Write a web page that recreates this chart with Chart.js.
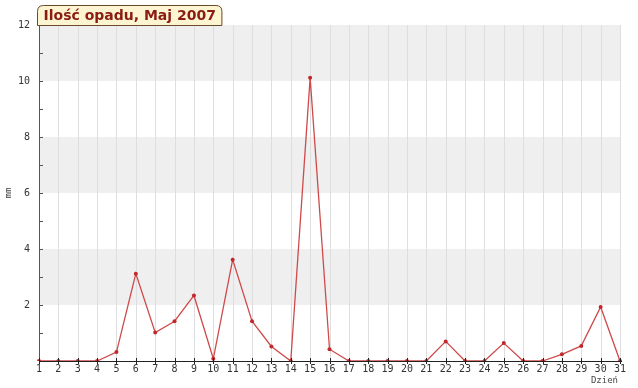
<!DOCTYPE html>
<html>
<head>
<meta charset="utf-8">
<script src="https://cdn.jsdelivr.net/npm/chart.js@4"></script>
<style>
  html, body { margin: 0; padding: 0; background: #fff; }
  #wrap { width: 638px; height: 388px; position: relative; }
</style>
</head>
<body>
<div id="wrap"><canvas id="rainChart" width="638" height="388"></canvas></div>
<script>
// Data
const days = ['1', '2', '3', '4', '5', '6', '7', '8', '9', '10', '11', '12', '13', '14', '15', '16',
    '17', '18', '19', '20', '21', '22', '23', '24', '25', '26', '27', '28', '29', '30', '31'];
const rain = [0, 0, 0, 0, 0.32, 3.12, 1.02, 1.42, 2.34, 0.08, 3.62, 1.42, 0.52, 0, 10.12, 0.42,
    0, 0, 0, 0, 0, 0.7, 0, 0, 0.64, 0, 0, 0.24, 0.54, 1.93, 0];
const yLabels = [2, 4, 6, 8, 10, 12];
const titleText = 'Ilość opadu, Maj 2007';
const yTitle = 'mm';
const xTitle = 'Dzień';

const monoFont = '"DejaVu Sans Mono", monospace';

// bands, inner ticks, title box, axis names
const decorPlugin = {
    id: 'decor',
    beforeDatasetsDraw(chart) {
        const { ctx, chartArea: a, scales: { x, y } } = chart;
        ctx.save();
        // gray bands 2-4, 6-8, 10-12
        ctx.fillStyle = '#efefef';
        for (let v = 2; v < 12; v += 4) {
            const top = y.getPixelForValue(v + 2);
            const bot = y.getPixelForValue(v);
            ctx.fillRect(a.left, top, a.right - a.left, bot - top);
        }
        // vertical grid
        ctx.strokeStyle = '#dedede';
        ctx.lineWidth = 1;
        for (let i = 1; i < days.length; i++) {
            const px = Math.round(x.getPixelForValue(i)) + 0.5;
            ctx.beginPath();
            ctx.moveTo(px, a.top);
            ctx.lineTo(px, a.bottom);
            ctx.stroke();
        }
        ctx.restore();
    },
    afterDatasetsDraw(chart) {
        const { ctx, chartArea: a, scales: { x, y } } = chart;
        ctx.save();
        // axes
        ctx.strokeStyle = '#555';
        ctx.lineWidth = 1;
        ctx.beginPath();
        ctx.moveTo(a.left + 0.5, a.top);
        ctx.lineTo(a.left + 0.5, a.bottom);
        ctx.stroke();
        ctx.strokeStyle = '#222';
        ctx.beginPath();
        ctx.moveTo(a.left, Math.round(a.bottom) + 0.5);
        ctx.lineTo(a.right + 2, Math.round(a.bottom) + 0.5);
        ctx.stroke();
        // y ticks inward
        ctx.strokeStyle = '#555';
        for (let v = 1; v <= 11; v++) {
            const py = Math.round(y.getPixelForValue(v)) + 0.5;
            ctx.beginPath();
            ctx.moveTo(a.left, py);
            ctx.lineTo(a.left + 4, py);
            ctx.stroke();
        }
        // x ticks
        ctx.strokeStyle = '#222';
        for (let i = 0; i < days.length; i++) {
            const px = Math.round(x.getPixelForValue(i)) + 0.5;
            ctx.beginPath();
            ctx.moveTo(px, a.bottom - 3);
            ctx.lineTo(px, a.bottom + 3);
            ctx.stroke();
        }
        // axis names
        ctx.fillStyle = '#444';
        ctx.font = '9px ' + monoFont;
        ctx.textAlign = 'right';
        ctx.textBaseline = 'top';
        ctx.fillText(xTitle, a.right - 2, a.bottom + 15);
        ctx.translate(9, (a.top + a.bottom) / 2);
        ctx.rotate(-Math.PI / 2);
        ctx.textAlign = 'center';
        ctx.textBaseline = 'middle';
        ctx.fillText(yTitle, 0, 0);
        ctx.restore();

        // title box
        ctx.save();
        ctx.font = 'bold 14px "DejaVu Sans", Verdana, sans-serif';
        const tw = ctx.measureText(titleText).width;
        const bx = 37.5, by = 5.5, bw = tw + 12, bh = 20, r = 6;
        ctx.beginPath();
        ctx.moveTo(bx + r, by);
        ctx.lineTo(bx + bw - r, by);
        ctx.quadraticCurveTo(bx + bw, by, bx + bw, by + r);
        ctx.lineTo(bx + bw, by + bh);
        ctx.lineTo(bx, by + bh);
        ctx.lineTo(bx, by + r);
        ctx.quadraticCurveTo(bx, by, bx + r, by);
        ctx.closePath();
        ctx.fillStyle = '#fdf5d2';
        ctx.fill();
        ctx.strokeStyle = '#6b4a2a';
        ctx.lineWidth = 1;
        ctx.stroke();
        ctx.fillStyle = '#8a1c12';
        ctx.textAlign = 'left';
        ctx.textBaseline = 'middle';
        ctx.fillText(titleText, bx + 6, by + bh / 2 + 1);
        ctx.restore();
    }
};

const ctx = document.getElementById('rainChart').getContext('2d');
const chart = new Chart(ctx, {
    type: 'line',
    data: {
        labels: days,
        datasets: [{
            data: rain,
            borderColor: '#cf4a4a',
            backgroundColor: '#c0282b',
            borderWidth: 1.3,
            pointRadius: 2,
            pointBorderWidth: 0,
            tension: 0,
            fill: false,
        }],
    },
    options: {
        responsive: false,
        animation: false,
        layout: { padding: { top: 25, right: 18, left: 0, bottom: 0 } },
        plugins: {
            legend: { display: false },
            tooltip: { enabled: false },
        },
        scales: {
            x: {
                offset: false,
                grid: { display: false, tickLength: 0 },
                border: { display: false },
                ticks: {
                    color: '#333',
                    font: { family: monoFont, size: 10 },
                    maxRotation: 0,
                    autoSkip: false,
                    padding: 2,
                },
                afterFit(scale) { scale.height = 27; },
            },
            y: {
                min: 0,
                max: 12,
                grid: { display: false, tickLength: 0 },
                border: { display: false },
                ticks: {
                    stepSize: 2,
                    color: '#333',
                    font: { family: monoFont, size: 10 },
                    padding: 9,
                    callback: (v) => (yLabels.includes(v) ? String(v) : ''),
                },
                afterFit(scale) { scale.width = 39; },
            },
        },
    },
    plugins: [decorPlugin],
});
</script>
</body>
</html>
